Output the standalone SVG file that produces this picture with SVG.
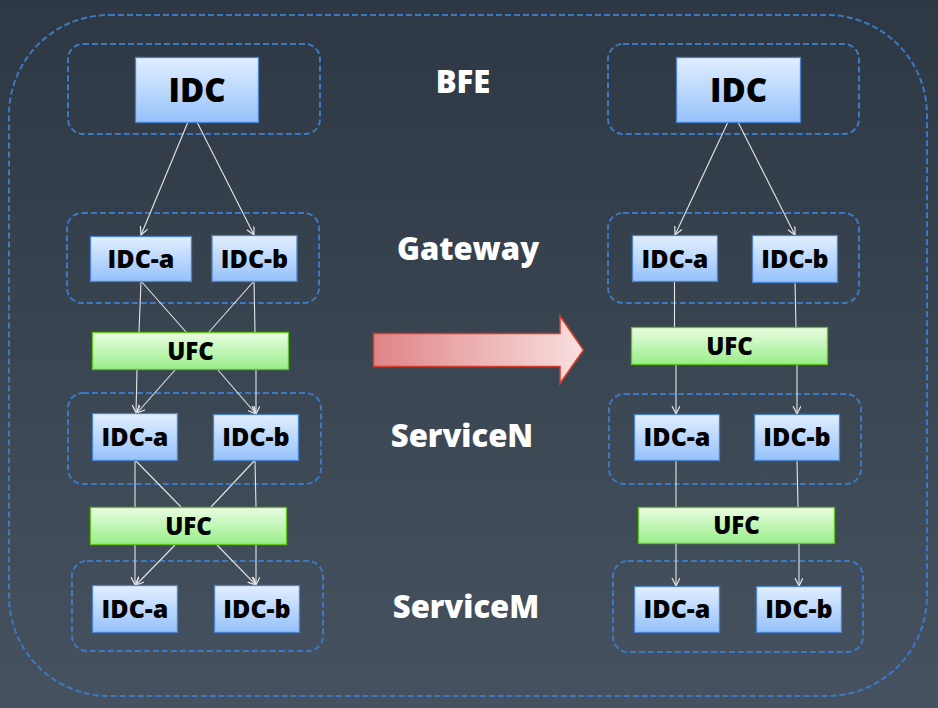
<svg xmlns="http://www.w3.org/2000/svg" width="938" height="708" viewBox="0 0 938 708">
<defs>
<linearGradient id="bg" x1="0" y1="0" x2="0" y2="1"><stop offset="0" stop-color="#2e3845"/><stop offset="1" stop-color="#46525f"/></linearGradient>
<linearGradient id="blue" x1="0" y1="0" x2="0" y2="1"><stop offset="0" stop-color="#e2efff"/><stop offset="1" stop-color="#95c1fa"/></linearGradient>
<linearGradient id="green" x1="0" y1="0" x2="0" y2="1"><stop offset="0" stop-color="#eafde2"/><stop offset="1" stop-color="#98ee8a"/></linearGradient>
<linearGradient id="red" x1="0" y1="0" x2="1" y2="0"><stop offset="0" stop-color="#e08486"/><stop offset="1" stop-color="#f8e0e0"/></linearGradient>
<marker id="ah" markerWidth="10" markerHeight="10" refX="8" refY="4" orient="auto" markerUnits="userSpaceOnUse"><path d="M0,0 L8,4 L0,8" fill="none" stroke="#e6e6e6" stroke-width="1.2"/></marker>
</defs>
<style>
.grp{fill:none;stroke:#3b79c2;stroke-width:2;stroke-dasharray:6 3}
.b{fill:url(#blue);stroke:#4a82c9;stroke-width:1.3}
.g{fill:url(#green);stroke:#62c21c;stroke-width:1.3}
.t{font-family:"Open Sans","Noto Sans",sans-serif;font-weight:800;fill:#000;text-anchor:middle}
.lbl{font-family:"Open Sans","Noto Sans",sans-serif;font-weight:800;fill:#fff;text-anchor:middle;font-size:31px}
.c line{stroke:#e6e6e6;stroke-width:1.1}
.c line.a{marker-end:url(#ah)}
</style>
<rect width="938" height="708" fill="url(#bg)"/>
<rect x="9" y="15" width="918" height="681" rx="100" fill="none" stroke="#3b79c2" stroke-width="2" stroke-dasharray="6 3"/>
<g id="groups">
<rect class="grp" x="68" y="44" width="252" height="90" rx="15"/>
<rect class="grp" x="67" y="213" width="252" height="90" rx="15"/>
<rect class="grp" x="68" y="393" width="253" height="91" rx="15"/>
<rect class="grp" x="72" y="561" width="251" height="90" rx="15"/>
<rect class="grp" x="608" y="44" width="251" height="90" rx="15"/>
<rect class="grp" x="608" y="213" width="251" height="90" rx="15"/>
<rect class="grp" x="609" y="394" width="252" height="90" rx="15"/>
<rect class="grp" x="613" y="561" width="250" height="91" rx="15"/>
</g>
<g id="labels">
<text class="lbl" x="463" y="93">BFE</text>
<text class="lbl" x="468" y="260">Gateway</text>
<text class="lbl" x="462" y="447">ServiceN</text>
<text class="lbl" x="466" y="618">ServiceM</text>
</g>
<g class="c" id="connectors">
<line class="a" x1="188" y1="122" x2="141" y2="235"/>
<line class="a" x1="197" y1="122" x2="254" y2="235"/>
<line x1="141" y1="281" x2="139" y2="332"/>
<line x1="141" y1="281" x2="186" y2="332"/>
<line x1="254" y1="281" x2="209" y2="332"/>
<line x1="254" y1="281" x2="255" y2="332"/>
<line class="a" x1="137" y1="370" x2="136" y2="413"/>
<line class="a" x1="175" y1="370" x2="137" y2="413"/>
<line class="a" x1="218" y1="370" x2="256" y2="414"/>
<line class="a" x1="256" y1="370" x2="256" y2="414"/>
<line x1="135" y1="460" x2="135" y2="507"/>
<line x1="135" y1="460" x2="181" y2="507"/>
<line x1="255" y1="460" x2="211" y2="507"/>
<line x1="255" y1="460" x2="256" y2="507"/>
<line class="a" x1="135" y1="545" x2="135" y2="585"/>
<line class="a" x1="175" y1="545" x2="136" y2="585"/>
<line class="a" x1="217" y1="545" x2="256" y2="585"/>
<line class="a" x1="256" y1="545" x2="256" y2="585"/>
<line class="a" x1="728" y1="122" x2="675" y2="235"/>
<line class="a" x1="738" y1="122" x2="795" y2="235"/>
<line x1="674.5" y1="281" x2="674.5" y2="327"/>
<line x1="795" y1="282" x2="796" y2="327"/>
<line class="a" x1="676" y1="364" x2="676" y2="414"/>
<line class="a" x1="797" y1="364" x2="797" y2="414"/>
<line x1="676" y1="460" x2="676" y2="507"/>
<line x1="797" y1="460" x2="798" y2="507"/>
<line class="a" x1="676" y1="543" x2="676" y2="586"/>
<line class="a" x1="799" y1="543" x2="799" y2="586"/>
</g>
<g id="arrow"><path d="M373.5,333.5 H560 V316 L583.5,350 L560,383.5 V366.5 H373.5 Z" fill="url(#red)" stroke="#d63c2a" stroke-width="1.5"/></g>
<g id="L-IDC"><rect class="b" x="135.5" y="57.5" width="123" height="65"/><text class="t" x="197" y="102" font-size="33">IDC</text></g>
<g id="L-GW-a"><rect class="b" x="90.5" y="236.5" width="101" height="45"/><text class="t" x="141" y="267.5" font-size="25">IDC-a</text></g>
<g id="L-GW-b"><rect class="b" x="212" y="235.5" width="85" height="46"/><text class="t" x="254.5" y="267.5" font-size="25">IDC-b</text></g>
<g id="L-UFC1"><rect class="g" x="92.5" y="332.5" width="196" height="37"/><text class="t" x="190.5" y="359.5" font-size="24">UFC</text></g>
<g id="L-SN-a"><rect class="b" x="92.5" y="413.5" width="85" height="47"/><text class="t" x="135" y="446" font-size="25">IDC-a</text></g>
<g id="L-SN-b"><rect class="b" x="213.5" y="414.5" width="85" height="46"/><text class="t" x="256" y="446" font-size="25">IDC-b</text></g>
<g id="L-UFC2"><rect class="g" x="90.5" y="507.5" width="196" height="37"/><text class="t" x="188.5" y="534.5" font-size="24">UFC</text></g>
<g id="L-SM-a"><rect class="b" x="92.5" y="585.5" width="85" height="47"/><text class="t" x="135" y="618" font-size="25">IDC-a</text></g>
<g id="L-SM-b"><rect class="b" x="214.5" y="585.5" width="85" height="47"/><text class="t" x="257" y="618" font-size="25">IDC-b</text></g>
<g id="R-IDC"><rect class="b" x="676.5" y="57.5" width="124" height="65"/><text class="t" x="738.5" y="102" font-size="33">IDC</text></g>
<g id="R-GW-a"><rect class="b" x="632.5" y="235.5" width="85" height="46"/><text class="t" x="675" y="267.5" font-size="25">IDC-a</text></g>
<g id="R-GW-b"><rect class="b" x="752.5" y="235.5" width="85" height="47"/><text class="t" x="795" y="267.5" font-size="25">IDC-b</text></g>
<g id="R-UFC1"><rect class="g" x="631.5" y="327.5" width="196" height="37"/><text class="t" x="729.5" y="355" font-size="24">UFC</text></g>
<g id="R-SN-a"><rect class="b" x="634.5" y="414.5" width="85" height="46"/><text class="t" x="677" y="446" font-size="25">IDC-a</text></g>
<g id="R-SN-b"><rect class="b" x="754.5" y="414.5" width="85" height="46"/><text class="t" x="797" y="446" font-size="25">IDC-b</text></g>
<g id="R-UFC2"><rect class="g" x="638.5" y="507.5" width="196" height="36"/><text class="t" x="736.5" y="534" font-size="24">UFC</text></g>
<g id="R-SM-a"><rect class="b" x="634.5" y="586.5" width="85" height="46"/><text class="t" x="677" y="618" font-size="25">IDC-a</text></g>
<g id="R-SM-b"><rect class="b" x="756.5" y="586.5" width="85" height="46"/><text class="t" x="799" y="618" font-size="25">IDC-b</text></g>
</svg>
